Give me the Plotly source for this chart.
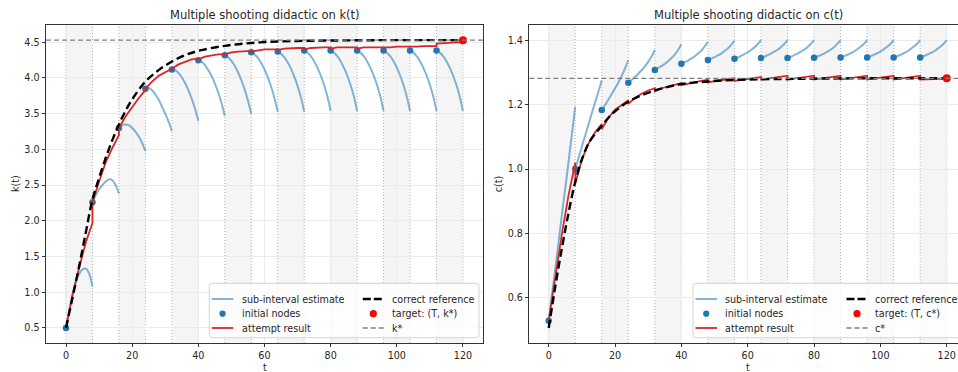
import plotly.graph_objects as go

# ---------------------------------------------------------------- data
T_end = 120
t_nodes = [0, 8, 16, 24, 32, 40, 48, 56, 64, 72, 80, 88, 96, 104, 112]
sub_offsets = [0, 1, 2, 3, 4, 5, 6, 7, 8]      # time offsets of sub-interval samples
seg_offsets = [0, 2, 4, 6, 8]                   # time offsets of attempt samples

k_star = 4.53
c_star = 1.283

k_nodes = [0.50, 2.26, 3.30, 3.85, 4.12, 4.25, 4.32, 4.36, 4.37,
           4.385, 4.385, 4.385, 4.385, 4.385, 4.385]
c_nodes = [0.528, 1.000, 1.184, 1.269, 1.309, 1.328, 1.340, 1.344, 1.346,
           1.346, 1.347, 1.348, 1.348, 1.348, 1.348]

# sub-interval estimates started from each node
k_sub = [
    [0.50, 0.76, 0.98, 1.15, 1.26, 1.32, 1.33, 1.26, 1.08],
    [2.26, 2.36, 2.44, 2.50, 2.55, 2.58, 2.57, 2.50, 2.38],
    [3.30, 3.34, 3.35, 3.34, 3.30, 3.25, 3.18, 3.09, 2.98],
    [3.85, 3.86, 3.83, 3.77, 3.70, 3.60, 3.50, 3.39, 3.26],
    [4.12, 4.11, 4.07, 4.01, 3.93, 3.83, 3.71, 3.57, 3.40],
    [4.25, 4.23, 4.18, 4.11, 4.03, 3.92, 3.80, 3.65, 3.47],
    [4.32, 4.29, 4.24, 4.17, 4.08, 3.97, 3.84, 3.68, 3.50],
    [4.36, 4.33, 4.28, 4.21, 4.12, 4.01, 3.88, 3.72, 3.53],
    [4.37, 4.34, 4.29, 4.22, 4.13, 4.02, 3.89, 3.73, 3.53],
    [4.385, 4.355, 4.305, 4.235, 4.145, 4.035, 3.905, 3.745, 3.54],
    [4.385, 4.355, 4.305, 4.235, 4.145, 4.035, 3.905, 3.745, 3.54],
    [4.385, 4.355, 4.305, 4.235, 4.145, 4.035, 3.905, 3.745, 3.54],
    [4.385, 4.355, 4.305, 4.235, 4.145, 4.035, 3.905, 3.745, 3.54],
    [4.385, 4.355, 4.305, 4.235, 4.145, 4.035, 3.905, 3.745, 3.54],
    [4.385, 4.355, 4.305, 4.235, 4.145, 4.035, 3.905, 3.745, 3.54],
]
c_sub = [
    [0.528, 0.610, 0.690, 0.775, 0.860, 0.940, 1.025, 1.110, 1.194],
    [1.000, 1.035, 1.070, 1.105, 1.140, 1.174, 1.208, 1.242, 1.277],
    [1.184, 1.200, 1.217, 1.234, 1.252, 1.270, 1.290, 1.314, 1.340],
    [1.269, 1.278, 1.287, 1.297, 1.308, 1.320, 1.334, 1.351, 1.371],
    [1.309, 1.315, 1.321, 1.328, 1.336, 1.346, 1.357, 1.371, 1.389],
    [1.328, 1.333, 1.338, 1.345, 1.351, 1.360, 1.369, 1.382, 1.397],
    [1.340, 1.344, 1.349, 1.354, 1.360, 1.368, 1.376, 1.387, 1.400],
    [1.344, 1.348, 1.353, 1.358, 1.364, 1.371, 1.379, 1.389, 1.402],
    [1.346, 1.350, 1.355, 1.360, 1.366, 1.372, 1.380, 1.390, 1.402],
    [1.346, 1.350, 1.355, 1.360, 1.366, 1.372, 1.380, 1.390, 1.402],
    [1.347, 1.351, 1.355, 1.360, 1.366, 1.372, 1.380, 1.390, 1.402],
    [1.348, 1.352, 1.356, 1.361, 1.366, 1.373, 1.381, 1.390, 1.402],
    [1.348, 1.352, 1.356, 1.361, 1.366, 1.373, 1.381, 1.390, 1.402],
    [1.348, 1.352, 1.356, 1.361, 1.366, 1.373, 1.381, 1.390, 1.402],
    [1.348, 1.352, 1.356, 1.361, 1.366, 1.373, 1.381, 1.390, 1.402],
]

# attempt result, one piece per sub-interval
k_attempt = [
    [0.50, 0.97, 1.35, 1.70, 1.97],
    [2.26, 2.55, 2.82, 3.02, 3.20],
    [3.30, 3.46, 3.59, 3.72, 3.83],
    [3.85, 3.95, 4.03, 4.08, 4.12],
    [4.13, 4.19, 4.23, 4.26, 4.27],
    [4.26, 4.30, 4.32, 4.33, 4.33],
    [4.33, 4.36, 4.37, 4.38, 4.38],
    [4.37, 4.39, 4.40, 4.40, 4.40],
    [4.39, 4.41, 4.42, 4.42, 4.42],
    [4.40, 4.42, 4.43, 4.43, 4.43],
    [4.41, 4.43, 4.43, 4.43, 4.43],
    [4.41, 4.43, 4.43, 4.43, 4.43],
    [4.42, 4.43, 4.44, 4.44, 4.44],
    [4.43, 4.44, 4.445, 4.445, 4.445],
    [4.48, 4.49, 4.495, 4.50, 4.50],
]
c_attempt = [
    [0.528, 0.670, 0.800, 0.920, 1.020],
    [0.955, 1.030, 1.080, 1.115, 1.140],
    [1.125, 1.160, 1.185, 1.200, 1.215],
    [1.203, 1.222, 1.235, 1.245, 1.252],
    [1.242, 1.252, 1.258, 1.263, 1.268],
    [1.262, 1.267, 1.271, 1.275, 1.278],
    [1.270, 1.274, 1.277, 1.280, 1.283],
    [1.275, 1.278, 1.281, 1.284, 1.287],
    [1.279, 1.282, 1.285, 1.288, 1.291],
    [1.279, 1.282, 1.285, 1.288, 1.291],
    [1.279, 1.282, 1.285, 1.288, 1.291],
    [1.279, 1.282, 1.285, 1.288, 1.291],
    [1.279, 1.282, 1.285, 1.288, 1.291],
    [1.279, 1.282, 1.285, 1.288, 1.291],
    [1.279, 1.280, 1.280, 1.281, 1.282],
]

# correct reference path
t_ref = [0, 2, 4, 6, 8, 10, 12, 14, 16, 18, 20, 24, 28, 32, 36, 40, 48, 56,
         64, 72, 80, 96, 112, 120]
k_ref = [0.50, 0.93, 1.37, 1.84, 2.30, 2.60, 2.88, 3.13, 3.35, 3.54, 3.70,
         3.95, 4.11, 4.23, 4.32, 4.38, 4.45, 4.49, 4.51, 4.52, 4.525, 4.53,
         4.53, 4.53]
c_ref = [0.505, 0.635, 0.755, 0.865, 0.960, 1.030, 1.080, 1.110, 1.135, 1.160,
         1.180, 1.210, 1.230, 1.245, 1.256, 1.265, 1.273, 1.278, 1.280, 1.281,
         1.282, 1.283, 1.283, 1.283]

x_ticks = [0, 20, 40, 60, 80, 100, 120]
k_ticks = [0.5, 1.0, 1.5, 2.0, 2.5, 3.0, 3.5, 4.0, 4.5]
c_ticks = [0.6, 0.8, 1.0, 1.2, 1.4]

# ---------------------------------------------------------------- style
W, H = 958, 372
ML, MR, MT, MB = 46, 0, 25, 29
PW, PH = W - ML - MR, H - MT - MB
FONT = "DejaVu Sans"
TXT = "#262626"
BLUE = "#1f77b4"
BLUE_A = "rgba(31,119,180,0.55)"
RED = "#d62728"


def px_x(x):
    return (x - ML) / PW


def px_y(y):
    return (MT + PH - y) / PH


fig = go.Figure()


def build_panel(xa, ya, nodes, sub, attempt, ref, star):
    # blue sub-interval estimates
    xs, ys = [], []
    for t0, seg in zip(t_nodes, sub):
        xs += [t0 + o for o in sub_offsets] + [None]
        ys += list(seg) + [None]
    fig.add_trace(go.Scatter(x=xs, y=ys, mode="lines", xaxis=xa, yaxis=ya,
                             line=dict(color=BLUE_A, width=2, shape="spline"),
                             showlegend=False, hoverinfo="skip"))
    # initial nodes
    fig.add_trace(go.Scatter(x=t_nodes, y=nodes, mode="markers", xaxis=xa, yaxis=ya,
                             marker=dict(color=BLUE, size=6.5), showlegend=False))
    # attempt result (pieces joined, jumps at node times)
    xs, ys = [], []
    for t0, seg in zip(t_nodes, attempt):
        xs += [t0 + o for o in seg_offsets]
        ys += list(seg)
    fig.add_trace(go.Scatter(x=xs, y=ys, mode="lines", xaxis=xa, yaxis=ya,
                             line=dict(color=RED, width=1.8), showlegend=False))
    # correct reference
    fig.add_trace(go.Scatter(x=t_ref, y=ref, mode="lines", xaxis=xa, yaxis=ya,
                             line=dict(color="black", width=2.4, dash="8px,4px",
                                       shape="spline"),
                             showlegend=False))
    # target
    fig.add_trace(go.Scatter(x=[T_end], y=[star], mode="markers", xaxis=xa, yaxis=ya,
                             marker=dict(color="#ff0000", size=8), showlegend=False))

    xr = "x" if xa == "x" else xa
    yr = "y" if ya == "y" else ya
    bounds = t_nodes + [T_end]
    for i in range(len(t_nodes)):
        if i % 2 == 0:
            fig.add_shape(type="rect", xref=xr, yref=yr + " domain",
                          x0=bounds[i], x1=bounds[i + 1], y0=0, y1=1,
                          fillcolor="rgba(128,128,128,0.08)", line_width=0,
                          layer="below")
    for b in bounds:
        fig.add_shape(type="line", xref=xr, yref=yr + " domain",
                      x0=b, x1=b, y0=0, y1=1,
                      line=dict(color="#a8a8a8", width=0.9, dash="1px,2px"),
                      layer="below")
    # steady-state level
    fig.add_shape(type="line", xref=xr + " domain", yref=yr,
                  x0=0, x1=1, y0=star, y1=star,
                  line=dict(color="#7f7f7f", width=1.3, dash="5px,3px"),
                  layer="above")


build_panel("x", "y", k_nodes, k_sub, k_attempt, k_ref, k_star)
build_panel("x2", "y2", c_nodes, c_sub, c_attempt, c_ref, c_star)

axis_common = dict(
    ticks="outside", ticklen=3.5, tickwidth=0.8, tickcolor="#333",
    showline=True, linecolor="#333", linewidth=0.9,
    showgrid=True, gridcolor="#ebebeb", gridwidth=0.8, zeroline=False,
    tickfont=dict(family=FONT, size=9.6, color=TXT),
)

left_end = px_x(483.3)
right_start = px_x(529.3)

fig.update_layout(
    width=W, height=H,
    margin=dict(l=ML, r=MR, t=MT, b=MB, pad=0),
    paper_bgcolor="white", plot_bgcolor="white",
    font=dict(family=FONT, color=TXT),
    showlegend=False,
    xaxis=dict(domain=[0, left_end], range=[-6.05, 126.15], tickvals=x_ticks,
               anchor="y", mirror=True, **axis_common),
    yaxis=dict(domain=[0, 1], range=[0.289, 4.742], tickvals=k_ticks,
               tickformat=".1f", anchor="x", mirror=True, **axis_common),
    xaxis2=dict(domain=[right_start, 1], range=[-5.85, 123.4], tickvals=x_ticks,
                anchor="y2", mirror=True, **axis_common),
    yaxis2=dict(domain=[0, 1], range=[0.4583, 1.449], tickvals=c_ticks,
                tickformat=".1f", anchor="x2", mirror=False, **axis_common),
)

annotations = []


def text(s, x, y, size=9.6, xanchor="center", yanchor="middle", angle=0):
    annotations.append(dict(text=s, x=px_x(x), y=px_y(y), xref="paper", yref="paper",
                            showarrow=False, xanchor=xanchor, yanchor=yanchor,
                            textangle=angle, borderpad=0,
                            font=dict(family=FONT, size=size, color=TXT)))


# titles and axis labels
text("Multiple shooting didactic on k(t)", 264.7, 15, size=11.5)
text("Multiple shooting didactic on c(t)", 748.0, 15, size=11.5)
text("t", 264.7, 367.2)
text("t", 748.0, 367.2)
text("k(t)", 15, 184, angle=-90)
text("c(t)", 498.3, 184, angle=-90)


def rounded_box(x0, y0, x1, y1, r):
    # pixel box -> rounded rectangle path in paper units
    X = px_x
    Y = px_y
    return (f"M {X(x0 + r)},{Y(y0)} L {X(x1 - r)},{Y(y0)} "
            f"Q {X(x1)},{Y(y0)} {X(x1)},{Y(y0 + r)} "
            f"L {X(x1)},{Y(y1 - r)} Q {X(x1)},{Y(y1)} {X(x1 - r)},{Y(y1)} "
            f"L {X(x0 + r)},{Y(y1)} Q {X(x0)},{Y(y1)} {X(x0)},{Y(y1 - r)} "
            f"L {X(x0)},{Y(y0 + r)} Q {X(x0)},{Y(y0)} {X(x0 + r)},{Y(y0)} Z")


def draw_legend(box_left, box_top, star_name):
    box_w, box_h = 269.7, 54.4
    fig.add_shape(type="path", xref="paper", yref="paper",
                  path=rounded_box(box_left, box_top, box_left + box_w,
                                   box_top + box_h, 2.5),
                  fillcolor="rgba(255,255,255,0.8)",
                  line=dict(color="#cfcfcf", width=0.9), layer="above")
    rows = [box_top + 15.7, box_top + 30.4, box_top + 44.7]
    cols = [(box_left + 2.5, box_left + 24.0, box_left + 31.4),
            (box_left + 153.5, box_left + 174.5, box_left + 181.4)]
    entries = [
        [("line", BLUE_A, 2, None, "sub-interval estimate"),
         ("marker", BLUE, 3.1, None, "initial nodes"),
         ("line", RED, 1.8, None, "attempt result")],
        [("line", "black", 2.4, "8px,3px", "correct reference"),
         ("marker", "#ff0000", 3.6, None, f"target: (T, {star_name})"),
         ("line", "#7f7f7f", 1.3, "5px,3px", star_name)],
    ]
    for (h0, h1, tx), col in zip(cols, entries):
        for yy, (kind, color, size, dash, label) in zip(rows, col):
            if kind == "line":
                ln = dict(color=color, width=size)
                if dash:
                    ln["dash"] = dash
                fig.add_shape(type="line", xref="paper", yref="paper",
                              x0=px_x(h0), x1=px_x(h1), y0=px_y(yy), y1=px_y(yy),
                              line=ln, layer="above")
            else:
                fig.add_shape(type="circle", xref="paper", yref="paper",
                              xsizemode="pixel", ysizemode="pixel",
                              xanchor=px_x((h0 + h1) / 2), yanchor=px_y(yy),
                              x0=-size, x1=size, y0=-size, y1=size,
                              fillcolor=color, line_width=0, layer="above")
            text(label, tx, yy, xanchor="left")


draw_legend(209.3, 283.3, "k*")
draw_legend(693.0, 283.3, "c*")

fig.update_layout(annotations=annotations)
fig.write_html("out.html")
